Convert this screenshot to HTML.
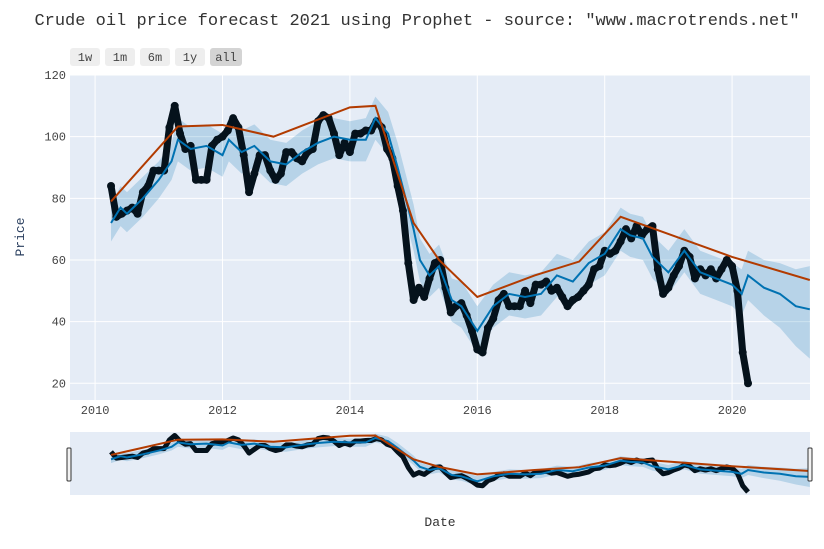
<!DOCTYPE html>
<html><head><meta charset="utf-8"><style>
body{margin:0;background:#fff;width:824px;height:544px;overflow:hidden;font-family:"Liberation Mono",monospace}
</style></head><body>
<svg id="chart" width="824" height="544" xmlns="http://www.w3.org/2000/svg">
<text x="417" y="25" text-anchor="middle" font-family="Liberation Mono, monospace" font-size="17" fill="#333">Crude oil price forecast 2021 using Prophet - source: "www.macrotrends.net"</text>
<g font-family="Liberation Mono, monospace" font-size="12" fill="#444">
<rect x="70" y="48" width="30" height="18" rx="3" fill="#eeeeee"/><text x="85" y="61" text-anchor="middle">1w</text>
<rect x="105" y="48" width="30" height="18" rx="3" fill="#eeeeee"/><text x="120" y="61" text-anchor="middle">1m</text>
<rect x="140" y="48" width="30" height="18" rx="3" fill="#eeeeee"/><text x="155" y="61" text-anchor="middle">6m</text>
<rect x="175" y="48" width="30" height="18" rx="3" fill="#eeeeee"/><text x="190" y="61" text-anchor="middle">1y</text>
<rect x="210" y="48" width="32" height="18" rx="3" fill="#d4d4d4"/><text x="226" y="61" text-anchor="middle">all</text>
</g>
<rect x="70" y="75" width="740" height="325" fill="#e5ecf6"/>
<g id="grid"></g>
<g id="main" clip-path="url(#cp)"></g>
<clipPath id="cp"><rect x="70" y="75" width="740" height="325"/></clipPath>
<clipPath id="cp2"><rect x="70" y="432" width="740" height="63"/></clipPath>
<g id="ticks" font-family="Liberation Mono, monospace" font-size="12" fill="#444"></g>
<text x="24" y="237" transform="rotate(-90 24 237)" text-anchor="middle" font-family="Liberation Mono, monospace" font-size="13" fill="#2a3f5f">Price</text>
<rect x="70" y="432" width="740" height="63" fill="#e5ecf6"/>
<g id="slider" clip-path="url(#cp2)"></g>
<rect x="67" y="448" width="4" height="33" rx="1" fill="#f2f2f2" stroke="#333"/>
<rect x="808" y="448" width="4" height="33" rx="1" fill="#f2f2f2" stroke="#333"/>
<text x="440" y="526" text-anchor="middle" font-family="Liberation Mono, monospace" font-size="13" fill="#333">Date</text>
</svg>
<script>
const actualStart = 2010.25;
const actualPrices = [84,74,75,76,77,75,82,84,89,
89,89,103,110,101,96,97,86,86,86,97,99,
100,102,106,103,94,82,88,94,94,89,86,88,
95,95,93,92,95,96,105,107,106,101,94,98,
95,101,101,102,102,105,103,96,93,84,76,59,
47,51,48,54,59,60,51,43,45,46,42,37,
31,30,38,41,47,49,45,45,45,50,46,52,
52,53,50,51,48,45,47,48,50,52,57,58,
63,62,63,66,70,67,71,68,70,71,57,49,
51,55,58,63,61,54,57,55,57,54,57,60,
58,50,30,20];
const fcDates = [2010.25,2010.4,2010.5,2010.75,2011.0,2011.2,2011.3,2011.5,2011.75,2012.0,2012.1,2012.3,2012.5,2012.75,2013.0,2013.25,2013.5,2013.75,2014.0,2014.25,2014.4,2014.6,2014.75,2015.0,2015.1,2015.25,2015.4,2015.6,2015.75,2016.0,2016.25,2016.5,2016.75,2017.0,2017.25,2017.5,2017.75,2018.0,2018.25,2018.4,2018.6,2018.75,2019.0,2019.25,2019.5,2019.75,2020.0,2020.15,2020.25,2020.5,2020.75,2021.0,2021.22];
const yhat = [72,77,75,80,86,92,99,96,97,94,99,95,97,92,91,95,98,100,99,99,106,101,90,70,60,55,58,47,45,37,45,49,48,49,55,53,59,62,70,68,67,61,56,63,56,54,52,49,55,51,49,45,44];
const yUpper = [78,84,82,87,92,98,106,103,104,101,106,102,104,99,98,102,105,106,105,106,113,108,98,78,67,62,65,54,53,45,52,56,55,56,62,60,66,69,77,75,74,68,63,70,63,61,59,57,63,60,59,57,58];
const yLower = [66,71,69,74,80,86,92,89,90,87,92,88,90,85,84,88,91,93,92,92,99,94,83,63,53,48,51,40,38,30,38,42,41,42,48,46,52,55,63,61,60,54,49,56,49,47,45,42,47,42,38,32,28];
const trendDates = [2010.25,2011.3,2012.0,2012.8,2014.0,2014.4,2015.0,2015.4,2016.0,2016.9,2017.6,2018.25,2020.0,2021.22];
const trendVals = [79,103.3,103.8,100,109.5,110,72,60,48,55,59.5,74,61,53.5];
const xTicks = [2010,2012,2014,2016,2018,2020];
const yTicks = [20,40,60,80,100,120];

const NS='http://www.w3.org/2000/svg';
const X = y => 477.3 + (y-2016)*63.7;
const Y = v => 75 + (120-v)*3.083;
const SY = v => 492 - (v-20)*0.628;
function mk(tag, attrs, parent){const e=document.createElementNS(NS,tag);for(const k in attrs)e.setAttribute(k,attrs[k]);parent.appendChild(e);return e;}
const grid=document.getElementById('grid'),main=document.getElementById('main'),ticks=document.getElementById('ticks'),slider=document.getElementById('slider');
xTicks.forEach(t=>{
  const l=mk('line',{x1:X(t),x2:X(t),y1:75,y2:400,stroke:'#fff','stroke-width':1},grid);
  
  
  const tx=mk('text',{x:X(t),y:414,'text-anchor':'middle'},ticks);tx.textContent=t;
  
  
});
yTicks.forEach(t=>{
  const l=mk('line',{x1:70,x2:810,y1:Y(t),y2:Y(t),stroke:'#fff','stroke-width':1},grid);
  
  
  const tx=mk('text',{x:66,y:Y(t)+4,'text-anchor':'end'},ticks);tx.textContent=t;
  
  
});
const actDates = actualPrices.map((v,i)=>actualStart+i/12);
function draw(parent, xf, yf, big){
  const up=fcDates.map((d,i)=>xf(d)+','+yf(yUpper[i]));
  const lo=fcDates.map((d,i)=>xf(d)+','+yf(yLower[i])).reverse();
  const band=mk('polygon',{points:up.concat(lo).join(' '),fill:'#0072B2','fill-opacity':0.2},parent);
  
  
  const al=mk('polyline',{points:actDates.map((d,i)=>xf(d)+','+yf(actualPrices[i])).join(' '),fill:'none',stroke:'#05121c','stroke-width':big?7:5,'stroke-linejoin':'round'},parent);
  
  
  if(big){actDates.forEach((d,i)=>{
    const c=mk('circle',{cx:xf(d),cy:yf(actualPrices[i]),r:4,fill:'#05121c'},parent);
    
    
  });}
  const fl=mk('polyline',{points:fcDates.map((d,i)=>xf(d)+','+yf(yhat[i])).join(' '),fill:'none',stroke:'#0072B2','stroke-width':2},parent);
  
  
  const tl=mk('polyline',{points:trendDates.map((d,i)=>xf(d)+','+yf(trendVals[i])).join(' '),fill:'none',stroke:'#B23B00','stroke-width':2},parent);
  
  
}
draw(main,X,Y,true);
draw(slider,X,SY,false);
</script>
</body></html>
